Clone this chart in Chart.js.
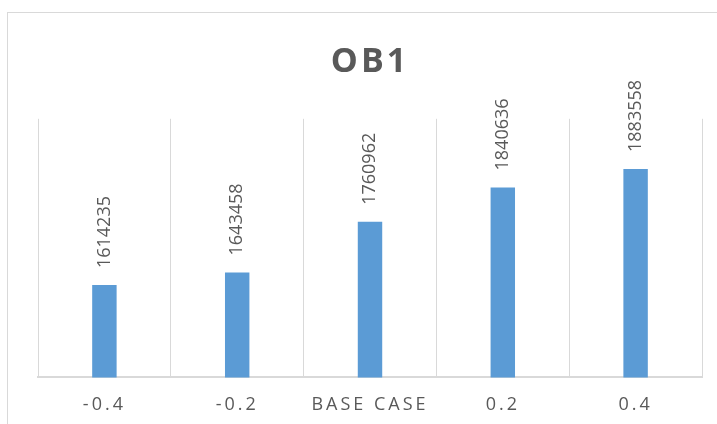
<!DOCTYPE html>
<html>
<head>
<meta charset="utf-8">
<title>OB1</title>
<script src="https://cdn.jsdelivr.net/npm/chart.js@4.4.1/dist/chart.umd.min.js"></script>
<style>
  html, body { margin: 0; padding: 0; background: #ffffff; overflow: hidden; }
  #frame {
    position: absolute; left: 7px; top: 12px;
    width: 800px; height: 800px;
    border: 1px solid #d9d9d9;
    box-sizing: border-box;
  }
  #wrap { position: absolute; left: 0; top: 0; width: 717px; height: 442px; }
</style>
</head>
<body>
<div id="frame"></div>
<div id="wrap"><canvas id="chart"></canvas></div>
<script>
// Scenario labels and OB1 results
const categories = ['-0.4', '-0.2', 'BASE CASE', '0.2', '0.4'];
const ob1Values = [1614235, 1643458, 1760962, 1840636, 1883558];
const valueAxisMin = 1400000;
const valueAxisMax = 2000000;

const TEXT_GREY = '#595959';
const GRID_GREY = '#d9d9d9';
const BAR_BLUE = '#5b9bd5';

// Spaced lettering for the title and category labels
const letterSpacingPlugin = {
  id: 'letterSpacing',
  beforeDraw(chart) { chart.ctx.letterSpacing = '3px'; },
  afterDraw(chart) { chart.ctx.letterSpacing = '0px'; }
};

// Vertical value labels above each bar
const barValueLabels = {
  id: 'barValueLabels',
  afterDatasetsDraw(chart) {
    const ctx = chart.ctx;
    const meta = chart.getDatasetMeta(0);
    const values = chart.data.datasets[0].data;
    ctx.save();
    ctx.letterSpacing = '0px';
    ctx.font = '18px "Open Sans"';
    ctx.fillStyle = TEXT_GREY;
    ctx.textAlign = 'left';
    ctx.textBaseline = 'middle';
    meta.data.forEach((bar, i) => {
      ctx.save();
      ctx.translate(bar.x, bar.y - 17);
      ctx.rotate(-Math.PI / 2);
      ctx.fillText(String(values[i]), 0, 0);
      ctx.restore();
    });
    ctx.restore();
  }
};

new Chart(document.getElementById('chart'), {
  type: 'bar',
  data: {
    labels: categories,
    datasets: [{
      label: 'OB1',
      data: ob1Values,
      backgroundColor: BAR_BLUE,
      borderWidth: 0,
      categoryPercentage: 1.0,
      barPercentage: 0.184
    }]
  },
  options: {
    responsive: true,
    maintainAspectRatio: false,
    animation: false,
    layout: { padding: { left: 38, right: 15, top: 0, bottom: 9 } },
    plugins: {
      legend: { display: false },
      tooltip: { enabled: false },
      title: {
        display: true,
        text: 'OB1',
        color: TEXT_GREY,
        font: { family: '"Open Sans"', size: 34, weight: 'bold' },
        padding: { top: 42, bottom: 36 }
      }
    },
    scales: {
      x: {
        grid: { display: true, color: GRID_GREY, lineWidth: 1, offset: true, drawTicks: false },
        border: { display: true, color: GRID_GREY, width: 2 },
        ticks: {
          color: TEXT_GREY,
          font: { family: '"Open Sans"', size: 18 },
          padding: 17,
          maxRotation: 0,
          autoSkip: false
        }
      },
      y: {
        display: false,
        min: valueAxisMin,
        max: valueAxisMax
      }
    }
  },
  plugins: [letterSpacingPlugin, barValueLabels]
});
</script>
</body>
</html>
